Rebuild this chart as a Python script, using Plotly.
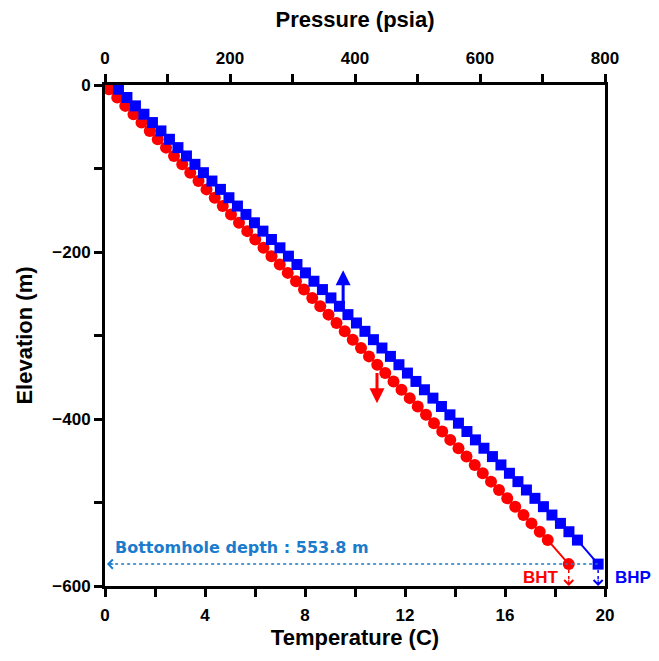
import plotly.graph_objects as go

# ---- data ----
elevation_m = [-5, -15, -25, -35, -45, -55, -65, -75, -85, -95,
               -105, -115, -125, -135, -145, -155, -165, -175, -185, -195,
               -205, -215, -225, -235, -245, -255, -265, -275, -285, -295,
               -305, -315, -325, -335, -345, -355, -365, -375, -385, -395,
               -405, -415, -425, -435, -445, -455, -465, -475, -485, -495,
               -505, -515, -525, -535, -545, -573.8]
temperature_c = [0.16, 0.49, 0.81, 1.14, 1.46, 1.79, 2.11, 2.44, 2.76, 3.09,
                 3.41, 3.74, 4.06, 4.39, 4.71, 5.04, 5.36, 5.69, 6.01, 6.34,
                 6.66, 6.99, 7.31, 7.64, 7.96, 8.29, 8.61, 8.94, 9.26, 9.59,
                 9.91, 10.24, 10.56, 10.89, 11.21, 11.54, 11.86, 12.19, 12.51, 12.84,
                 13.16, 13.49, 13.81, 14.14, 14.46, 14.79, 15.11, 15.44, 15.76, 16.09,
                 16.41, 16.74, 17.06, 17.39, 17.71, 18.55]
pressure_psia = [21.5, 35.1, 48.7, 62.3, 75.9, 89.5, 103.1, 116.7, 130.3, 143.9,
                 157.5, 171.1, 184.7, 198.3, 211.9, 225.5, 239.1, 252.7, 266.3, 279.9,
                 293.5, 307.1, 320.7, 334.3, 347.9, 361.5, 375.1, 388.7, 402.3, 415.9,
                 429.5, 443.1, 456.7, 470.3, 483.9, 497.5, 511.1, 524.7, 538.3, 551.9,
                 565.5, 579.1, 592.7, 606.3, 619.9, 633.5, 647.1, 660.7, 674.3, 687.9,
                 701.5, 715.1, 728.7, 742.3, 755.9, 789.0]
bottomhole_depth_m = 553.8
temp_ticks = [0, 4, 8, 12, 16, 20]
pres_ticks = [0, 200, 400, 600, 800]
elev_ticks = [0, -200, -400, -600]

FONT = "Liberation Sans"
RED = "#ff0000"
BLUE = "#0000ff"
DEPTH_BLUE = "#1b7bcc"

bh_elev = elevation_m[-1]
bht = temperature_c[-1]
bhp = pressure_psia[-1]

fig = go.Figure()

fig.add_trace(go.Scatter(
    x=pressure_psia, y=elevation_m, xaxis="x2", yaxis="y",
    mode="lines+markers", cliponaxis=False,
    line=dict(color=BLUE, width=2),
    marker=dict(symbol="square", size=11, color=BLUE),
    showlegend=False))
fig.add_trace(go.Scatter(
    x=temperature_c, y=elevation_m, xaxis="x", yaxis="y",
    mode="lines+markers", cliponaxis=False,
    line=dict(color=RED, width=2),
    marker=dict(symbol="circle", size=12, color=RED),
    showlegend=False))

axis_common = dict(
    showgrid=False, zeroline=False, showline=True, linecolor="black", linewidth=3,
    ticks="outside", ticklen=8, tickwidth=3, tickcolor="black",
    tickfont=dict(family=FONT, size=17, color="black", weight="bold"),
)
title_font = dict(family=FONT, size=22, color="black", weight="bold")

fig.update_layout(
    width=659, height=661,
    margin=dict(l=105, r=54, t=85, b=75, autoexpand=False),
    paper_bgcolor="white", plot_bgcolor="white",
    xaxis=dict(
        range=[0, 20], tickmode="array", tickvals=temp_ticks, ticklabelstandoff=4,
        minor=dict(dtick=2, ticklen=8, tickwidth=3, tickcolor="black", ticks="outside"),
        title=dict(text="Temperature (C)", standoff=6, font=title_font),
        mirror=True, **axis_common),
    xaxis2=dict(
        range=[0, 800], tickmode="array", tickvals=pres_ticks, overlaying="x", side="top",
        ticklabelstandoff=3,
        minor=dict(dtick=100, ticklen=8, tickwidth=3, tickcolor="black", ticks="outside"),
        title=dict(text="Pressure (psia)", standoff=16, font=title_font),
        **axis_common),
    yaxis=dict(
        range=[-600, 0], tickmode="array", tickvals=elev_ticks,
        minor=dict(dtick=100, ticklen=8, tickwidth=3, tickcolor="black", ticks="outside"),
        title=dict(text="Elevation (m)", standoff=14, font=title_font),
        mirror=True, **axis_common),
)

# dotted guide lines
fig.add_shape(type="line", xref="x2", yref="y", x0=bhp, x1=3, y0=bh_elev, y1=bh_elev,
              line=dict(color=DEPTH_BLUE, width=1.5, dash="dot"))
fig.add_shape(type="line", xref="x", yref="y", x0=bht, x1=bht, y0=bh_elev, y1=-600,
              line=dict(color=RED, width=1.5, dash="dot"))
fig.add_shape(type="line", xref="x2", yref="y", x0=bhp, x1=bhp, y0=bh_elev, y1=-600,
              line=dict(color=BLUE, width=1.5, dash="dot"))

# small open arrowheads at the ends of the dotted lines
fig.add_annotation(xref="x2", yref="y", x=3, y=bh_elev, ax=8, ay=0, text="",
                   showarrow=True, arrowhead=4, arrowsize=1.6, arrowwidth=1.1,
                   arrowcolor=DEPTH_BLUE)
fig.add_annotation(xref="x", yref="y", x=bht, y=-600, ax=0, ay=-8, text="",
                   showarrow=True, arrowhead=4, arrowsize=1.6, arrowwidth=1.1,
                   arrowcolor=RED)
fig.add_annotation(xref="x2", yref="y", x=bhp, y=-600, ax=0, ay=-8, text="",
                   showarrow=True, arrowhead=4, arrowsize=1.6, arrowwidth=1.1,
                   arrowcolor=BLUE)

# thick arrows pointing to the relevant axis
fig.add_annotation(xref="x2", yref="y", axref="x2", ayref="y",
                   x=381, y=-222, ax=381, ay=-264, text="", showarrow=True,
                   arrowhead=2, arrowsize=1, arrowwidth=3, arrowcolor=BLUE)
fig.add_annotation(xref="x", yref="y", axref="x", ayref="y",
                   x=10.88, y=-381, ax=10.88, ay=-343, text="", showarrow=True,
                   arrowhead=2, arrowsize=1, arrowwidth=3, arrowcolor=RED)

# texts
fig.add_annotation(xref="x", yref="y", x=0.3, y=-554, xanchor="left", yanchor="middle",
                   text=f"Bottomhole depth : {bottomhole_depth_m} m", showarrow=False,
                   font=dict(family="DejaVu Sans", size=16, color=DEPTH_BLUE, weight="bold"))
fig.add_annotation(xref="x", yref="y", x=18.25, y=-590, xanchor="right", yanchor="middle",
                   text="BHT", showarrow=False,
                   font=dict(family=FONT, size=17, color=RED, weight="bold"))
fig.add_annotation(xref="paper", yref="y", x=1.016, y=-590, xanchor="left", yanchor="middle",
                   text="BHP", showarrow=False,
                   font=dict(family=FONT, size=17, color=BLUE, weight="bold"))

fig.write_html("out.html")
